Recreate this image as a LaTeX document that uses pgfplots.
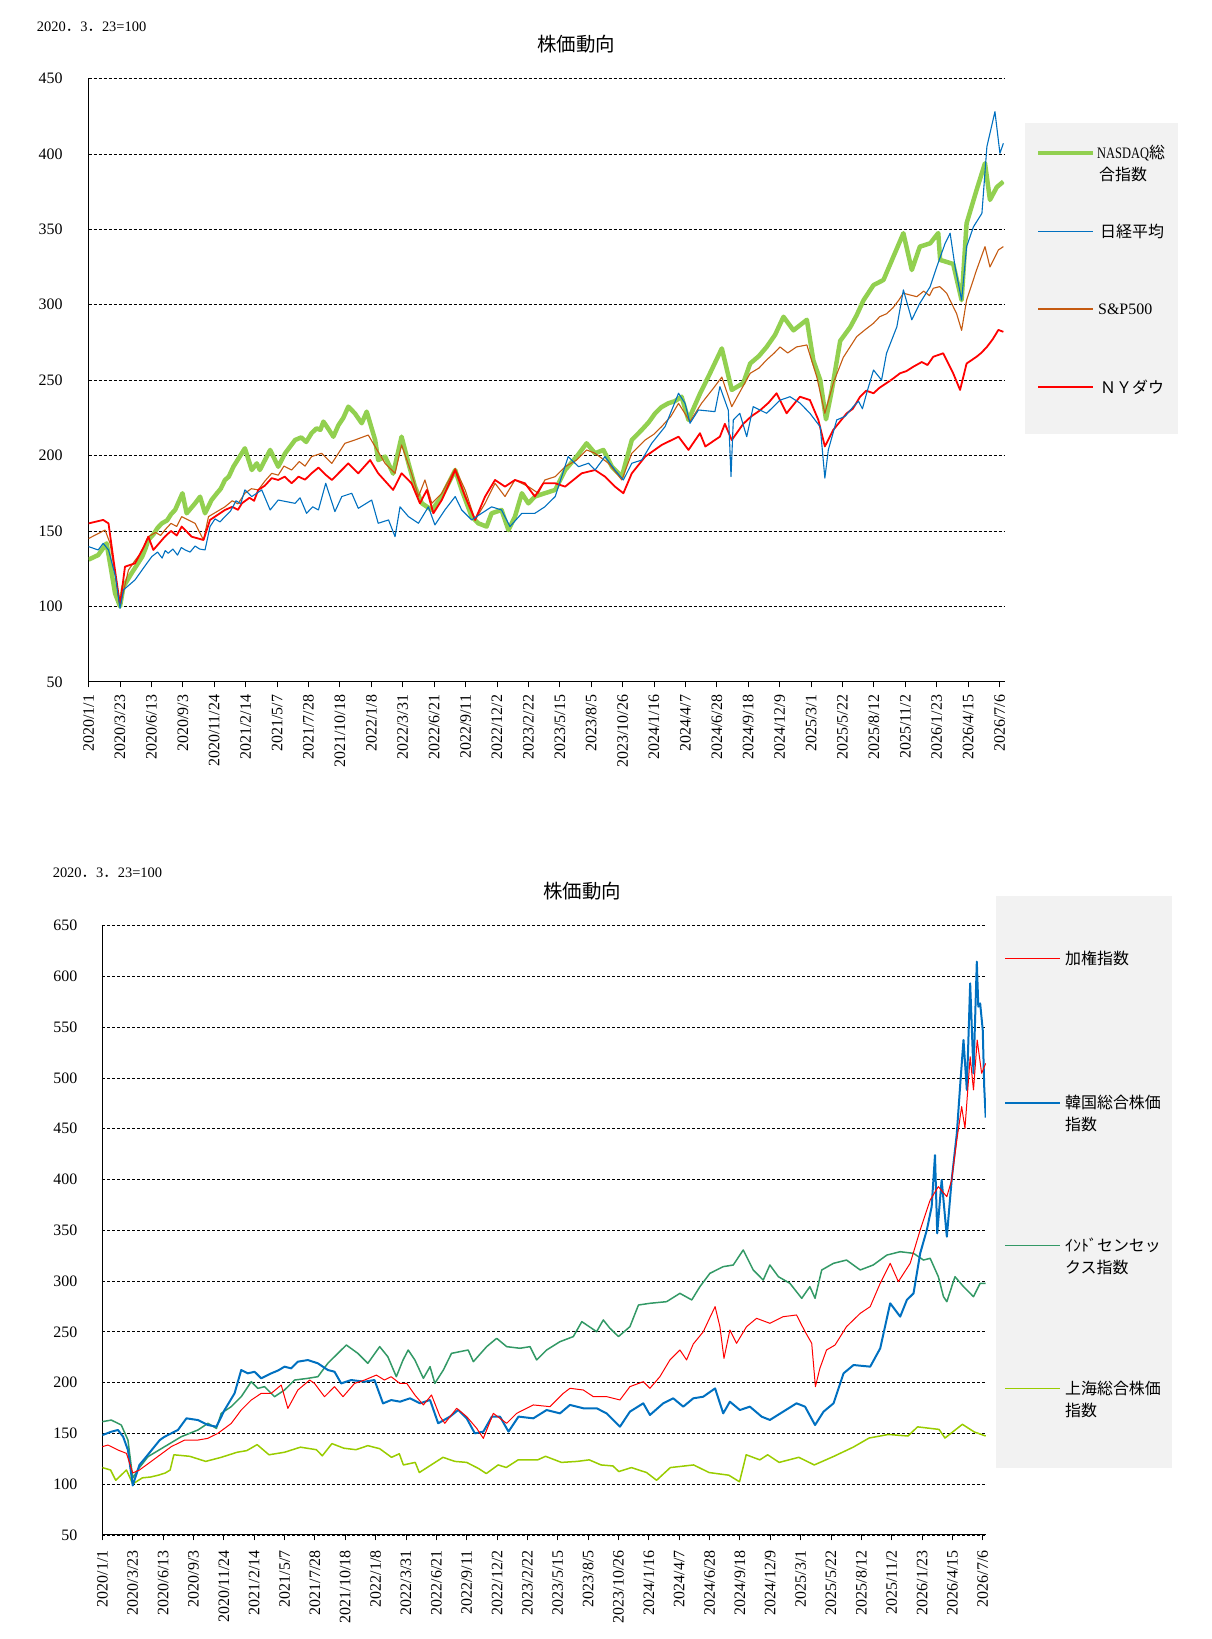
\documentclass[border=0pt]{standalone}
\usepackage{pgfplots}
\pgfplotsset{compat=1.18}
\usepackage{graphicx}
\usepackage{fontspec}
\setmainfont{Liberation Serif}
\newfontfamily\cjk{Noto Sans CJK JP}
\definecolor{nasdaq}{HTML}{92D050}
\definecolor{nikkei}{HTML}{0070C0}
\definecolor{spx}{HTML}{C55A11}
\definecolor{dow}{HTML}{FF0000}
\definecolor{india}{HTML}{339966}
\definecolor{shanghai}{HTML}{99CC00}
\definecolor{legbg}{HTML}{F2F2F2}
\pgfplotsset{
  mystyle/.style={
    scale only axis,
    axis x line*=bottom, axis y line*=left,
    axis line style={black, line width=0.9bp},
    xtick={0,82,164,246,328,410,492,574,656,738,820,902,984,1066,1148,1230,1312,1394,1476,1558,1640,1722,1804,1886,1968,2050,2132,2214,2296,2378},
    xticklabels={2020/1/1,2020/3/23,2020/6/13,2020/9/3,2020/11/24,2021/2/14,2021/5/7,2021/7/28,2021/10/18,2022/1/8,2022/3/31,2022/6/21,2022/9/11,2022/12/2,2023/2/22,2023/5/15,2023/8/5,2023/10/26,2024/1/16,2024/4/7,2024/6/28,2024/9/18,2024/12/9,2025/3/1,2025/5/22,2025/8/12,2025/11/2,2026/1/23,2026/4/15,2026/7/6},
    ymajorgrids,
    grid style={black, line width=0.7bp, dash pattern=on 3bp off 2bp},
    tick label style={font=\fontsize{16}{19}\selectfont},
    ytick style={draw=none},
    xtick style={black, line width=0.9bp},
    tick align=outside, major tick length=5.5bp,
    /pgf/number format/assume math mode=true,
    no marks,
    every axis plot/.append style={line join=round},
  }
}
\begin{document}
\begin{tikzpicture}
\begin{scope}[x=1bp,y=1bp]
\path[use as bounding box] (0,0) rectangle (1211,1639);
\node[anchor=west, inner sep=0, font=\fontsize{14.5}{17}\selectfont] at (36.8,1612.4) {2020{\cjk ．}3{\cjk ．}23=100};
\node[inner sep=0, font=\fontsize{19.5}{22}\selectfont\cjk] at (576,1594.5) {株価動向};
\node[anchor=west, inner sep=0, font=\fontsize{14.5}{17}\selectfont] at (52.6,766) {2020{\cjk ．}3{\cjk ．}23=100};
\node[inner sep=0, font=\fontsize{19.5}{22}\selectfont\cjk] at (582,748) {株価動向};
% top legend
\fill[legbg] (1024.8,1204.7) rectangle (1177.5,1516.4);
\draw[nasdaq, line width=4.5bp] (1038,1486) -- (1093,1486);
\node[anchor=west, inner sep=0, font=\fontsize{16}{19}\selectfont] at (1097,1486) {\scalebox{0.78}[1]{NASDAQ}{\cjk 総}};
\node[anchor=west, inner sep=0, font=\fontsize{16}{19}\selectfont\cjk] at (1099,1464.5) {合指数};
\draw[nikkei, line width=1.1bp] (1038,1407.5) -- (1093,1407.5);
\node[anchor=west, inner sep=0, font=\fontsize{16}{19}\selectfont\cjk] at (1100,1407.5) {日経平均};
\draw[spx, line width=1.1bp] (1038,1330) -- (1093,1330);
\node[anchor=west, inner sep=0, font=\fontsize{16}{19}\selectfont] at (1098,1330) {S\&P500};
\draw[dow, line width=1.3bp] (1038,1252) -- (1093,1252);
\node[anchor=west, inner sep=0, font=\fontsize{16}{19}\selectfont\cjk] at (1100,1252) {ＮＹダウ};
% bottom legend
\fill[legbg] (996.3,171) rectangle (1172,743);
\draw[dow, line width=1bp] (1005,680.1) -- (1060,680.1);
\node[anchor=west, inner sep=0, font=\fontsize{16}{19}\selectfont\cjk] at (1065,680.1) {加権指数};
\draw[nikkei, line width=1.5bp] (1005,536.2) -- (1060,536.2);
\node[anchor=west, inner sep=0, font=\fontsize{16}{19}\selectfont\cjk] at (1065,536.2) {韓国総合株価};
\node[anchor=west, inner sep=0, font=\fontsize{16}{19}\selectfont\cjk] at (1065,515) {指数};
\draw[india, line width=1.2bp] (1005,393.4) -- (1060,393.4);
\node[anchor=west, inner sep=0, font=\fontsize{16}{19}\selectfont\cjk] at (1065,393.4) {ｲﾝﾄﾞセンセッ};
\node[anchor=west, inner sep=0, font=\fontsize{16}{19}\selectfont\cjk] at (1065,371.4) {クス指数};
\draw[shanghai, line width=1.2bp] (1005,250.5) -- (1060,250.5);
\node[anchor=west, inner sep=0, font=\fontsize{16}{19}\selectfont\cjk] at (1065,250.5) {上海総合株価};
\node[anchor=west, inner sep=0, font=\fontsize{16}{19}\selectfont\cjk] at (1065,229) {指数};
\end{scope}

% ---------- top chart ----------
\begin{axis}[mystyle,
  at={(88.6bp,957.2bp)}, anchor=south west,
  width=915.4bp, height=603.3bp,
  xmin=0, xmax=2389.7, ymin=50, ymax=450,
  ytick={50,100,...,450},
  yticklabel style={xshift=-17bp},
  xticklabel style={yshift=-4bp, rotate=90, anchor=east},
]
\addplot[nasdaq, line width=4.5bp] coordinates {
(0,131) (25,134) (47,141.8) (56,128.5) (69,108.7) (82,100) (91,113) (112,121.9) (125,127) (140,133) (148,138) (156,144) (170,148) (180,152) (191,155) (205,157) (215,161) (226,164) (245,175) (256,161.7) (278,168.3) (291,172.7) (304,161.7) (321,170.5) (335,175) (345,178) (356,183.8) (366,186) (378,192.6) (408,204.8) (426,190.4) (439,194.8) (447,190.4) (474,203.7) (495,192.6) (513,201.5) (539,210.3) (555,212) (568,209) (582,214.8) (595,218) (605,217) (613,222.5) (625,218) (639,212.5) (652,220) (665,225) (678,232.4) (695,228) (713,221.4) (726,229.1) (748,210.3) (756,197) (774,199.3) (795,188) (817,212.5) (835,194.9) (852,179.4) (870,168.3) (896,163.9) (922,172.8) (957,190.4) (974,177.2) (1000,159.5) (1017,155.1) (1039,152.9) (1052,161.7) (1078,163.9) (1096,150.6) (1113,159.5) (1131,175) (1148,168.3) (1165,172.8) (1191,175) (1218,177.2) (1244,190.4) (1274,199.3) (1300,208.1) (1322,201.5) (1344,203.7) (1366,192.6) (1392,186) (1418,210.3) (1444,217) (1462,222) (1479,228) (1495,232) (1513,234.6) (1530,236) (1548,239) (1566,223.6) (1596,241) (1618,252.3) (1653,271) (1679,243.5) (1709,248) (1727,261) (1750,266) (1770,272) (1792,280) (1814,292) (1840,283) (1875,290) (1892,263) (1910,250) (1925,224) (1940,243) (1962,276) (1988,285) (2005,293) (2023,303) (2049,313) (2075,316.4) (2101,331.9) (2127,347.4) (2149,323) (2170,338.5) (2197,340.7) (2218,347.5) (2223,329.7) (2257,327) (2279,303) (2292,354) (2318,376) (2340,393.8) (2353,369.5) (2371,378) (2388,381.6)
};
\addplot[spx, line width=1.1bp] coordinates {
(0,145) (43,150.6) (56,141.8) (70,120) (82,100) (104,124) (120,130) (135,135) (145,140) (156,146.2) (175,149) (188,147) (199,150.6) (215,155) (230,153) (243,159.5) (278,155) (300,144) (313,159.5) (356,166) (375,170) (390,168) (408,175) (425,178) (443,177.2) (460,183) (478,188.2) (495,187) (510,193) (530,190.4) (550,196) (565,193) (582,199.3) (608,201.5) (635,194.8) (669,208.1) (695,210.3) (730,213.6) (748,205.9) (774,194.8) (800,188.2) (817,207) (843,188.2) (861,172.8) (878,183.8) (896,168.3) (922,175) (957,191.5) (983,177.2) (1009,157.3) (1035,168.3) (1061,181.6) (1087,172.8) (1113,183.8) (1148,179.4) (1174,175) (1191,183.8) (1218,186) (1244,192.6) (1274,197) (1300,203.7) (1322,201.5) (1357,194.9) (1392,183.8) (1418,201.5) (1453,210.3) (1475,214) (1496,219.2) (1520,226) (1540,234.6) (1570,222.5) (1600,234.6) (1631,244.6) (1653,252) (1679,232.4) (1727,254.5) (1750,258) (1770,263.4) (1790,268) (1805,272) (1825,268) (1848,272) (1875,273.3) (1901,252) (1922,228) (1944,248) (1970,265) (2005,278.8) (2025,283) (2049,287.7) (2065,292) (2083,294) (2100,298) (2115,303) (2127,307.6) (2162,305.3) (2180,309) (2195,306) (2205,310.9) (2222,312) (2240,307.6) (2266,294) (2279,283) (2292,303) (2318,323) (2340,338.5) (2353,325) (2375,336.3) (2388,338.5)
};
\addplot[dow, line width=1.8bp] coordinates {
(0,155) (38,157.3) (52,155) (65,130.8) (82,101) (95,126.3) (121,128.5) (135,135) (145,140) (156,146.2) (169,137.4) (199,146.2) (215,150) (230,147) (243,152.9) (269,146.2) (300,144) (317,157.3) (356,163.9) (375,166) (390,164) (400,168.3) (420,172) (432,170) (443,177.2) (460,180) (478,185) (495,183.8) (512,186) (530,181.6) (548,186) (565,184) (582,188.2) (600,192) (620,187) (635,183.8) (678,194.8) (704,188.2) (735,197) (756,188.2) (795,177.2) (817,188.2) (826,186) (843,181.6) (865,168.3) (883,177.2) (900,161.7) (922,170.5) (957,190.4) (983,172.8) (1009,157.3) (1035,172.8) (1061,183.8) (1087,179.4) (1113,183.8) (1139,181.6) (1165,172.8) (1187,181.6) (1218,181.6) (1244,179.4) (1287,188.2) (1322,190.4) (1348,186) (1374,179.4) (1396,175) (1418,188.2) (1453,199.3) (1496,207) (1540,212.5) (1566,203.7) (1596,214.8) (1610,206) (1648,212.5) (1661,221) (1679,210.3) (1709,221) (1730,226) (1753,230) (1775,235) (1796,241.3) (1822,228) (1857,239) (1883,236.8) (1905,223.6) (1922,206) (1944,217) (1979,228) (1995,231) (2014,239) (2030,243) (2049,241.3) (2065,245) (2083,248) (2100,251) (2118,254.5) (2135,256) (2153,258.9) (2175,262) (2190,260) (2205,265.5) (2231,267.8) (2257,254.5) (2275,243.5) (2292,261) (2318,265.5) (2330,268) (2345,272) (2360,277) (2375,283.3) (2388,282)
};
\addplot[nikkei, line width=1.1bp] coordinates {
(0,139.6) (25,137.4) (38,141.8) (52,137.4) (70,120) (82,98.7) (91,110.9) (121,117.5) (152,128.5) (165,133) (180,136) (192,132) (200,137) (208,135.2) (220,138) (232,134) (242,139) (252,137.4) (265,136) (278,140) (290,138) (304,137.4) (317,152.9) (330,158) (343,156) (356,159.5) (370,163) (385,170) (397,168) (408,177.2) (426,172.8) (452,177.2) (474,163.9) (495,170.5) (539,168.3) (552,172) (569,161.7) (585,166) (600,163.9) (619,181.6) (643,162.8) (661,172.8) (687,175) (704,165) (739,170.5) (756,155.1) (783,157.3) (800,146.2) (813,166) (835,159.5) (861,155.1) (887,166) (904,154) (930,163.9) (957,172.8) (974,163.9) (1000,157.3) (1026,161.7) (1052,166) (1078,163.9) (1100,152.9) (1131,161.7) (1165,161.7) (1191,166) (1218,172.8) (1252,199.3) (1279,192.6) (1305,194.9) (1322,190.4) (1348,199.3) (1374,190.4) (1396,183.8) (1418,194.9) (1444,197) (1470,208.1) (1505,219.2) (1540,241.3) (1557,234.6) (1570,221.4) (1592,230.2) (1635,229.1) (1648,245.7) (1670,230) (1677,186) (1683,223.6) (1700,228) (1718,212.5) (1735,232.4) (1770,228) (1805,236.7) (1831,239) (1857,234.8) (1883,228) (1910,219) (1922,185) (1931,203.7) (1953,223.6) (1975,226) (1996,232.4) (2010,236) (2020,231) (2031,241.3) (2049,256.7) (2070,250) (2083,267.8) (2110,285.4) (2127,309.8) (2149,290) (2170,301) (2197,312) (2214,325) (2236,340.7) (2249,347.4) (2262,325) (2279,303) (2292,338.5) (2310,351.7) (2332,360.6) (2345,404.8) (2366,428) (2379,400.4) (2388,407)
};
\end{axis}

% ---------- bottom chart ----------
\begin{axis}[mystyle,
  at={(102.4bp,104.1bp)}, anchor=south west,
  width=883.4bp, height=609.2bp,
  xmin=0, xmax=2386.3, ymin=50, ymax=650,
  ytick={50,100,...,650},
  yticklabel style={xshift=-16bp},
  xticklabel style={yshift=-6.5bp, rotate=90, anchor=east},
]
\addplot[shanghai, line width=1.5bp] coordinates {
(0,116.3) (22,113.9) (36,103.8) (65,113.9) (82,100.2) (108,106.2) (130,107) (151,108.8) (170,111) (183,113.9) (193,128.9) (236,127.4) (279,122.4) (321,126.4) (364,131.4) (390,133) (418,138.9) (450,128.9) (492,131.4) (535,136.4) (578,133.9) (594,127.9) (620,139.9) (652,135.4) (685,133.9) (717,137.9) (749,134.9) (781,126.4) (802,129.9) (813,118.9) (845,121.4) (856,111.4) (888,118.9) (920,126.4) (952,122.4) (984,121.4) (1016,115.4) (1037,110.4) (1069,118.9) (1091,116.4) (1123,123.9) (1176,123.9) (1197,127.4) (1240,121.4) (1283,122.4) (1315,123.9) (1347,118.9) (1379,117.9) (1395,112.4) (1429,116.3) (1470,111.4) (1497,103.8) (1534,116.3) (1597,118.9) (1639,111.4) (1692,108.8) (1721,102.3) (1739,128.9) (1776,123.9) (1797,128.9) (1828,121.4) (1881,126.4) (1923,118.9) (1976,127.4) (2028,136.4) (2071,145.4) (2123,148.9) (2176,147.4) (2202,156.4) (2260,153.9) (2276,145.4) (2323,158.9) (2355,151.4) (2386,147.4)
};
\addplot[india, line width=1.5bp] coordinates {
(0,161.5) (24,163.1) (51,158.2) (69,143.4) (82,106) (100,116.3) (123,127) (168,136.9) (213,146.7) (258,153.3) (285,159.9) (308,154.9) (321,169.7) (348,176.3) (375,186.1) (402,200.9) (420,194.3) (438,196) (465,186.1) (492,192.7) (519,202.5) (555,204.2) (582,205.8) (609,219) (636,228.8) (659,237) (690,228.8) (717,219) (749,235.4) (771,225.5) (794,205.8) (812,222.2) (826,232.1) (844,222.3) (867,204.2) (885,215.7) (898,199.3) (921,212.4) (943,228.8) (966,230.5) (988,232.1) (1002,220.6) (1038,235.4) (1065,243.6) (1092,235.4) (1128,233.8) (1155,235.4) (1173,222.3) (1200,232.1) (1236,240.3) (1272,245.3) (1295,260) (1335,250.2) (1353,261.7) (1371,253.5) (1394,245.3) (1425,255.1) (1448,276.4) (1479,278.1) (1524,279.7) (1560,287.9) (1592,281.4) (1614,294.5) (1641,307.6) (1677,314.2) (1704,315.8) (1731,330.6) (1758,310.9) (1785,301) (1803,315.8) (1826,304.3) (1857,297.8) (1889,283) (1911,294.5) (1925,283) (1943,310.9) (1975,317.5) (2010,320.7) (2047,310.9) (2082,315.8) (2119,325.6) (2155,328.9) (2191,327.3) (2218,320.7) (2236,322.4) (2258,304.3) (2272,284.6) (2281,279.7) (2303,304.3) (2326,294.5) (2353,284.6) (2371,297.8) (2386,297.8)
};
\addplot[nikkei, line width=2bp] coordinates {
(0,148.3) (24,151.6) (42,153.3) (56,146.7) (69,133.6) (82,98.7) (100,118.9) (114,125) (155,143.4) (168,146.7) (204,153.3) (227,164.8) (258,163.1) (285,158.2) (308,156.6) (330,173) (357,189.4) (375,212.4) (393,209.1) (411,210.7) (429,204.2) (456,209.1) (475,212) (492,215.7) (510,214) (528,220.6) (555,222.2) (582,219) (609,212.4) (627,210.7) (645,199.2) (672,202.5) (708,200.9) (735,202.5) (758,179.5) (780,182.8) (804,181.2) (831,184.5) (858,179.6) (885,182.9) (907,159.9) (939,166.5) (961,173) (984,164.8) (1006,150) (1029,151.7) (1052,166.5) (1074,166.5) (1097,151.7) (1124,166.5) (1164,164.8) (1200,173) (1236,169.7) (1263,178) (1299,174.7) (1335,174.7) (1362,169.7) (1398,156.6) (1425,171.4) (1461,179.6) (1479,168.1) (1515,179.6) (1542,184.5) (1569,176.3) (1596,184.5) (1623,186.1) (1655,194.3) (1677,169.7) (1695,181.2) (1722,173) (1749,176.3) (1781,166.4) (1803,163.2) (1839,171.4) (1875,179.6) (1898,176.3) (1925,158.2) (1948,171.4) (1975,179.6) (2002,209.1) (2029,217.3) (2074,215.7) (2101,233.7) (2128,278.1) (2155,265) (2173,281.4) (2191,287.9) (2209,327.3) (2227,350.3) (2240,373.3) (2249,424.1) (2255,347) (2267,399.5) (2281,343.7) (2294,399.5) (2308,445.5) (2318,498) (2326,537.4) (2335,488.2) (2344,593.2) (2353,504.6) (2362,614.6) (2366,570.2) (2371,573.5) (2378,547.2) (2382,491) (2386,461)
};
\addplot[dow, line width=1bp] coordinates {
(0,136.9) (15,138.5) (42,133.6) (65,130.3) (82,111) (100,113.9) (123,120) (186,136.9) (222,143.4) (258,143.4) (285,145.1) (312,150) (348,159.8) (375,173) (402,182.8) (429,189.4) (456,189.4) (483,197.6) (501,174.6) (528,192.7) (560,202.5) (573,199.2) (600,186.1) (627,196) (650,186.1) (681,199.2) (708,202.5) (740,207.4) (762,202.5) (780,205.8) (803,199.3) (822,199.3) (844,187.8) (867,178) (889,187.8) (912,166.5) (925,159.9) (957,174.7) (984,166.5) (1011,155) (1029,145.1) (1056,169.7) (1092,159.9) (1119,169.7) (1164,178) (1209,176.3) (1245,189.4) (1263,194.4) (1299,192.7) (1326,186.2) (1362,186.2) (1398,182.9) (1425,196) (1461,200.9) (1479,194.4) (1506,205.9) (1533,222.3) (1560,232.1) (1578,222.3) (1596,238) (1623,250) (1637,261) (1655,274.8) (1668,255.1) (1679,223.9) (1695,251.8) (1713,238.7) (1740,255.1) (1767,263.3) (1803,258.4) (1839,264.9) (1875,266.6) (1898,250.2) (1916,238.7) (1926,196) (1938,214) (1956,232.1) (1979,237) (2010,255.1) (2047,268.2) (2074,274.8) (2101,297.8) (2128,317.5) (2150,299.4) (2182,317.5) (2209,350.3) (2236,379.8) (2258,393) (2281,383.1) (2294,399.5) (2308,438.9) (2321,471.8) (2330,450.4) (2344,521) (2353,488.2) (2363,537.4) (2375,504.6) (2386,514.4)
};
\end{axis}
\end{tikzpicture}
\end{document}
